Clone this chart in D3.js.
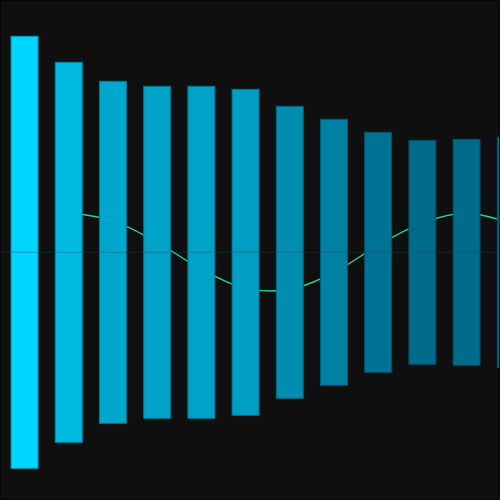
<!DOCTYPE html>
<html>
<head>
<meta charset="utf-8">
<script src="https://cdn.jsdelivr.net/npm/d3@7"></script>
<style>
html,body{margin:0;padding:0;background:#0f0f0f;}
svg{display:block;}
</style>
</head>
<body>
<svg id="chart" width="500" height="500"></svg>
<script>
// Data
const categories = ["1","2","3","4","5","6","7","8","9","10","11","12"];
const barValues = [216, 190, 171, 166, 166, 163, 146, 133, 120, 112, 113, 115];
const lineCategories = ["2","3","4","5","6","7","8","9","10","11","12"];
const lineValues = [39.5, 31.5, 10, -17, -36, -37, -20, 7, 29.5, 39, 29];

const W = 500, H = 500;
const svg = d3.select("#chart");

svg.append("rect").attr("x",0).attr("y",0).attr("width",W).attr("height",H)
  .attr("fill","#0f0f0f");

const x = d3.scaleBand().domain(categories)
  .range([0, 535.3]).paddingInner(0.39).paddingOuter(0.25);
const y = d3.scaleLinear().domain([-250, 250]).range([502.3, 2.3]);

const color = d3.scaleLinear()
  .domain([d3.min(barValues), d3.max(barValues)])
  .range(["#006a8a", "#00d5ff"]);

// line behind bars
const line = d3.line()
  .x((d,i) => x(lineCategories[i]) + x.bandwidth()/2)
  .y(d => y(d))
  .curve(d3.curveCatmullRom.alpha(0.5));

svg.append("path").datum(lineValues)
  .attr("d", line)
  .attr("fill","none")
  .attr("stroke","#1ed6a0")
  .attr("stroke-width",1.4);

svg.append("g").selectAll("rect").data(barValues).join("rect")
  .attr("x",(d,i)=>x(categories[i]))
  .attr("width",x.bandwidth())
  .attr("y",d=>y(d))
  .attr("height",d=>y(-d)-y(d))
  .attr("fill",d=>color(d))
  .attr("stroke",d=>d3.color(color(d)).darker(0.9).formatHex())
  .attr("stroke-width",1);

// centre line
svg.append("line")
  .attr("x1",0).attr("x2",W)
  .attr("y1",y(0)).attr("y2",y(0))
  .attr("stroke","#1d4a56").attr("stroke-opacity",0.3).attr("stroke-width",1.2);

// frame
svg.append("rect").attr("x",0.5).attr("y",0.5).attr("width",W-1).attr("height",H-1)
  .attr("fill","none").attr("stroke","#050505").attr("stroke-width",1);
</script>
</body>
</html>
